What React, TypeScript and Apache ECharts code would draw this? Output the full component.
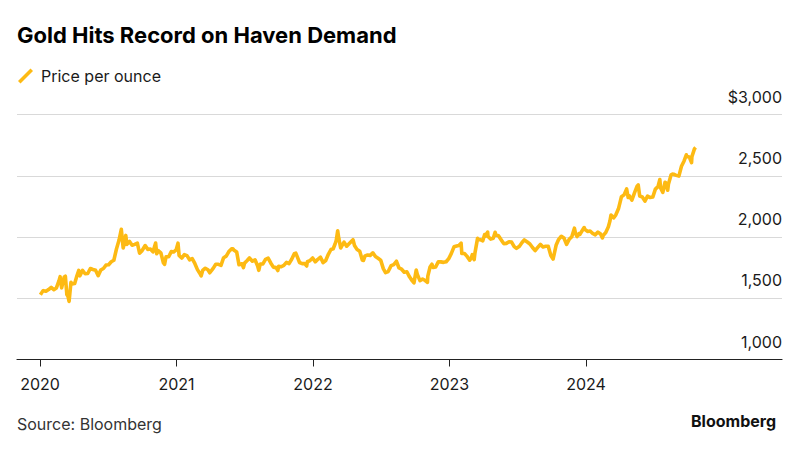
import React, { useEffect, useRef } from "react";
import * as echarts from "echarts";

const TITLE = "Gold Hits Record on Haven Demand";
const SERIES_NAME = "Price per ounce";
const SOURCE = "Source: Bloomberg";
const YEAR_TICKS = [2020, 2021, 2022, 2023, 2024];
const Y_MIN = 1000;
const Y_MAX = 3000;
const Y_STEP = 500;

const gold2020: [string, number][] = [
  ["01-02", 1528], ["01-08", 1556], ["01-10", 1562], ["01-17", 1557], ["01-24", 1571], ["01-31", 1589],
  ["02-07", 1570], ["02-14", 1584], ["02-21", 1643], ["02-24", 1676], ["02-28", 1585],
  ["03-06", 1674], ["03-09", 1680], ["03-13", 1530], ["03-16", 1515], ["03-19", 1474], ["03-24", 1630], ["03-27", 1617],
  ["04-03", 1620], ["04-09", 1683], ["04-14", 1727], ["04-17", 1683], ["04-24", 1727],
  ["05-01", 1700], ["05-08", 1702], ["05-15", 1743], ["05-22", 1735], ["05-29", 1728],
  ["06-05", 1684], ["06-12", 1730], ["06-19", 1743], ["06-26", 1771],
  ["07-03", 1774], ["07-10", 1798], ["07-17", 1810], ["07-24", 1902], ["07-31", 1975],
  ["08-06", 2063], ["08-11", 1911], ["08-14", 1944], ["08-18", 2013], ["08-21", 1940], ["08-28", 1964],
  ["09-04", 1933], ["09-11", 1940], ["09-18", 1950], ["09-24", 1868], ["09-30", 1886],
  ["10-09", 1930], ["10-16", 1899], ["10-23", 1902], ["10-30", 1879],
  ["11-06", 1951], ["11-09", 1863], ["11-13", 1889], ["11-20", 1871], ["11-27", 1788], ["11-30", 1777],
  ["12-04", 1839], ["12-11", 1839], ["12-18", 1881], ["12-24", 1877], ["12-31", 1895],
];

const gold2021: [string, number][] = [
  ["01-05", 1950], ["01-08", 1849], ["01-15", 1828], ["01-22", 1856], ["01-29", 1848],
  ["02-05", 1814], ["02-12", 1824], ["02-19", 1784], ["02-26", 1734],
  ["03-05", 1700], ["03-08", 1683], ["03-12", 1727], ["03-19", 1745], ["03-26", 1733], ["03-31", 1708],
  ["04-09", 1744], ["04-16", 1777], ["04-23", 1777], ["04-30", 1769],
  ["05-07", 1831], ["05-14", 1844], ["05-21", 1881], ["05-28", 1903],
  ["06-01", 1903], ["06-04", 1891], ["06-11", 1877], ["06-17", 1774], ["06-25", 1781], ["06-29", 1750],
  ["07-02", 1787], ["07-09", 1808], ["07-15", 1829], ["07-23", 1802], ["07-30", 1814],
  ["08-06", 1763], ["08-09", 1728], ["08-13", 1780], ["08-20", 1781], ["08-27", 1818],
  ["09-03", 1827], ["09-10", 1788], ["09-17", 1754], ["09-24", 1750], ["09-29", 1726],
  ["10-01", 1761], ["10-08", 1757], ["10-15", 1768], ["10-22", 1793], ["10-29", 1783],
  ["11-05", 1818], ["11-12", 1864], ["11-16", 1868], ["11-19", 1846], ["11-26", 1792],
  ["12-03", 1783], ["12-10", 1783], ["12-15", 1763], ["12-17", 1798], ["12-24", 1808], ["12-31", 1829],
];

const gold2022: [string, number][] = [
  ["01-07", 1797], ["01-14", 1818], ["01-21", 1835], ["01-28", 1791],
  ["02-04", 1808], ["02-11", 1859], ["02-18", 1898], ["02-24", 1904],
  ["03-01", 1943], ["03-04", 1970], ["03-08", 2050], ["03-11", 1988], ["03-16", 1910], ["03-18", 1921], ["03-25", 1958],
  ["04-01", 1925], ["04-08", 1947], ["04-18", 1978], ["04-22", 1931], ["04-29", 1897],
  ["05-06", 1883], ["05-13", 1811], ["05-16", 1808], ["05-20", 1846], ["05-27", 1853],
  ["06-03", 1850], ["06-10", 1871], ["06-17", 1840], ["06-24", 1826],
  ["07-01", 1811], ["07-08", 1742], ["07-14", 1709], ["07-21", 1718], ["07-29", 1766],
  ["08-05", 1775], ["08-12", 1802], ["08-19", 1747], ["08-26", 1737],
  ["09-02", 1712], ["09-09", 1716], ["09-16", 1675], ["09-23", 1644], ["09-28", 1626], ["09-30", 1660],
  ["10-04", 1730], ["10-07", 1695], ["10-14", 1644], ["10-21", 1657], ["10-28", 1645],
  ["11-03", 1630], ["11-04", 1681], ["11-10", 1755], ["11-15", 1778], ["11-18", 1751], ["11-25", 1755],
  ["12-02", 1797], ["12-09", 1797], ["12-16", 1793], ["12-23", 1798], ["12-30", 1824],
];

const gold2023: [string, number][] = [
  ["01-06", 1866], ["01-13", 1920], ["01-20", 1926], ["01-26", 1930],
  ["02-01", 1950], ["02-03", 1865], ["02-10", 1865], ["02-17", 1842], ["02-24", 1811], ["02-28", 1827],
  ["03-03", 1856], ["03-08", 1815], ["03-10", 1868], ["03-17", 1989], ["03-20", 1978], ["03-24", 1978], ["03-31", 1969],
  ["04-05", 2020], ["04-07", 2007], ["04-13", 2040], ["04-14", 2004], ["04-21", 1983], ["04-28", 1990],
  ["05-03", 2039], ["05-05", 2017], ["05-12", 2011], ["05-19", 1978], ["05-26", 1946],
  ["06-02", 1948], ["06-09", 1961], ["06-16", 1958], ["06-23", 1921], ["06-29", 1907],
  ["07-07", 1925], ["07-14", 1955], ["07-20", 1976], ["07-28", 1959],
  ["08-04", 1943], ["08-11", 1914], ["08-18", 1889], ["08-25", 1915],
  ["09-01", 1940], ["09-08", 1919], ["09-15", 1924], ["09-22", 1925], ["09-29", 1849],
  ["10-05", 1820], ["10-06", 1833], ["10-13", 1932], ["10-20", 1981], ["10-27", 2006],
  ["11-03", 1992], ["11-10", 1940], ["11-17", 1981], ["11-24", 2002],
  ["12-01", 2072], ["12-04", 2029], ["12-08", 2004], ["12-13", 2027], ["12-15", 2019], ["12-22", 2053], ["12-27", 2077], ["12-29", 2063],
];

const gold2024: [string, number][] = [
  ["01-05", 2045], ["01-12", 2049], ["01-19", 2029], ["01-26", 2018],
  ["02-02", 2040], ["02-09", 2024], ["02-14", 1992], ["02-16", 2013], ["02-23", 2036],
  ["03-01", 2083], ["03-05", 2128], ["03-08", 2179], ["03-15", 2156], ["03-21", 2181], ["03-28", 2230],
  ["04-05", 2329], ["04-12", 2344], ["04-19", 2392], ["04-23", 2322], ["04-26", 2337],
  ["05-03", 2301], ["05-10", 2360], ["05-17", 2415], ["05-20", 2425], ["05-24", 2334], ["05-31", 2327],
  ["06-07", 2293], ["06-14", 2333], ["06-21", 2322], ["06-28", 2326],
  ["07-05", 2391], ["07-12", 2411], ["07-17", 2469], ["07-19", 2400], ["07-25", 2364], ["07-31", 2447],
  ["08-02", 2443], ["08-07", 2382], ["08-09", 2431], ["08-16", 2507], ["08-20", 2513], ["08-23", 2512], ["08-30", 2503],
  ["09-06", 2497], ["09-13", 2577], ["09-20", 2621], ["09-26", 2671], ["09-27", 2658],
  ["10-04", 2653], ["10-10", 2607], ["10-11", 2656], ["10-18", 2721], ["10-21", 2731],
];

const YEARS: [number, [string, number][]][] = [
  [2020, gold2020],
  [2021, gold2021],
  [2022, gold2022],
  [2023, gold2023],
  [2024, gold2024],
];

function toDecimalYear(year: number, md: string): number {
  const [m, d] = md.split("-").map(Number);
  const start = Date.UTC(year, 0, 1);
  const len = Date.UTC(year + 1, 0, 1) - start;
  return year + (Date.UTC(year, m - 1, d) - start) / len;
}

const FONT = "Inter, 'Liberation Sans', Arial, sans-serif";
const GOLD = "#FDBA13";

export default function App() {
  const ref = useRef<HTMLDivElement>(null);
  useEffect(() => {
    document.body.style.margin = "0";
    if (!ref.current) return;
    const chart = echarts.init(ref.current, undefined, { renderer: "svg" });
    const data: [number, number][] = [];
    YEARS.forEach(([y, arr]) => arr.forEach(([md, v]) => data.push([toDecimalYear(y, md), v])));

    const pxPerYear = 136.5;
    const gridLeft = 17;
    const gridRight = 18;
    const xMin = 2020 - (40 - gridLeft) / pxPerYear;
    const xMax = xMin + (800 - gridLeft - gridRight) / pxPerYear;

    chart.setOption({
      animation: false,
      backgroundColor: "#ffffff",
      textStyle: { fontFamily: FONT },
      title: {
        text: TITLE,
        left: 17,
        top: 24,
        padding: 0,
        textStyle: { fontFamily: FONT, fontSize: 22, fontWeight: 700, color: "#000000" },
      },
      legend: {
        left: 18,
        top: 68,
        padding: 0,
        itemWidth: 15,
        itemHeight: 15,
        icon: "path://M0,12.5 L12.5,0 L15,2.5 L2.5,15 Z",
        textStyle: { fontFamily: FONT, fontSize: 16, color: "#1a1a1a", padding: [0, 0, 0, 3] },
        data: [{ name: SERIES_NAME, itemStyle: { color: GOLD } }],
      },
      grid: { left: gridLeft, right: gridRight, top: 114.5, bottom: 90.5, containLabel: false },
      xAxis: {
        type: "value",
        min: xMin,
        max: xMax,
        axisLine: { show: true, lineStyle: { color: "#222222", width: 1.2 } },
        axisTick: { show: true, length: 7, lineStyle: { color: "#222222" }, customValues: YEAR_TICKS },
        axisLabel: {
          customValues: YEAR_TICKS,
          formatter: (v: number) => String(Math.round(v)),
          fontFamily: FONT,
          fontSize: 16,
          color: "#1a1a1a",
          margin: 16,
        },
        splitLine: { show: false },
      },
      yAxis: {
        type: "value",
        position: "right",
        min: Y_MIN,
        max: Y_MAX,
        interval: Y_STEP,
        axisLine: { show: false },
        axisTick: { show: false },
        axisLabel: {
          inside: true,
          margin: 0,
          verticalAlign: "bottom",
          padding: [0, 0, 10, 0],
          fontFamily: FONT,
          fontSize: 16,
          color: "#1a1a1a",
          formatter: (v: number) => (v === Y_MAX ? "$" : "") + v.toLocaleString("en-US"),
        },
        splitLine: { show: true, lineStyle: { color: "#d9d9d9", width: 1.2 } },
      },
      series: [
        {
          name: SERIES_NAME,
          type: "line",
          data,
          showSymbol: false,
          lineStyle: { color: GOLD, width: 3.6, join: "round" },
          itemStyle: { color: GOLD },
          z: 3,
        },
      ],
      graphic: [
        {
          type: "text",
          left: 17,
          top: 416,
          style: { text: SOURCE, fontFamily: FONT, fontSize: 16, fill: "#333333" },
        },
        {
          type: "text",
          right: 24,
          top: 413,
          style: { text: "Bloomberg", fontFamily: FONT, fontSize: 16, fontWeight: 700, fill: "#111111" },
        },
      ],
    });
    return () => chart.dispose();
  }, []);
  return <div ref={ref} style={{ width: 800, height: 450 }} />;
}
